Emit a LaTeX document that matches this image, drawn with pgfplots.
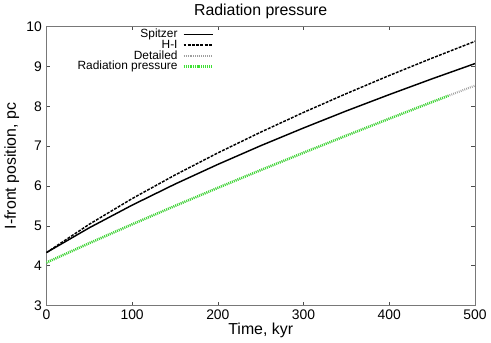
\documentclass[border=0pt]{standalone}
\usepackage{fontspec}
\setmainfont{Liberation Sans}
\usepackage{pgfplots}
\pgfplotsset{compat=1.18}
\definecolor{radgreen}{RGB}{60,225,50}
\definecolor{frame}{RGB}{120,120,120}

\begin{document}
\begin{tikzpicture}
\begin{axis}[
  scale only axis,
  width=324pt, height=211pt,
  xmin=0, xmax=500, ymin=3, ymax=10,
  xtick={0,100,200,300,400,500},
  ytick={3,4,5,6,7,8,9,10},
  /pgf/number format/assume math mode=true,
  tick label style={font=\fontsize{10.5}{12}\selectfont},
  label style={font=\fontsize{12}{14}\selectfont},
  title style={font=\fontsize{12}{14}\selectfont, yshift=-4pt},
  title={Radiation pressure},
  xlabel={Time, kyr},
  ylabel={I-front position, pc},
  xlabel style={yshift=4.5pt},
  ylabel style={yshift=-1.5pt},
  tick align=inside, major tick length=3pt,
  axis line style={frame},
  every tick/.style={black!70},
  legend plot pos=right,
  legend cell align=right,
  legend style={draw=none, fill=none, font=\fontsize{9}{9.5}\selectfont,
    at={(0.392,0.995)}, anchor=north east, row sep=-1.1pt, column sep=3pt,
    inner sep=0pt,
    nodes={text height=6.5pt, text depth=1.5pt, inner sep=0.6pt}},
  legend image post style={xscale=1.3},
]
\addplot[black, line width=1.1pt] coordinates {
  (0,4.33) (50,4.952) (100,5.520) (150,6.048) (200,6.542) (250,7.011)
  (300,7.456) (350,7.884) (400,8.293) (450,8.689) (500,9.071)};
\addplot[black, line width=1.1pt, dash pattern=on 2.2pt off 1pt] coordinates {
  (0,4.33) (50,5.041) (100,5.684) (150,6.276) (200,6.830) (250,7.351)
  (300,7.846) (350,8.318) (400,8.772) (450,9.208) (500,9.629)};
\addplot[gray!75, line width=1.6pt, dash pattern=on 0.6pt off 0.9pt] coordinates {
  (0,4.08) (50,4.566) (100,5.039) (150,5.501) (200,5.954) (250,6.399)
  (300,6.835) (350,7.265) (400,7.689) (450,8.107) (470,8.272) (500,8.519)};
\addplot[radgreen, line width=1.9pt, dash pattern=on 0.7pt off 0.8pt] coordinates {
  (0,4.08) (50,4.566) (100,5.039) (150,5.501) (200,5.954) (250,6.399)
  (300,6.835) (350,7.265) (400,7.689) (450,8.107) (470,8.272)};
\legend{Spitzer, H-I, Detailed, Radiation pressure}
\end{axis}
\end{tikzpicture}
\end{document}
